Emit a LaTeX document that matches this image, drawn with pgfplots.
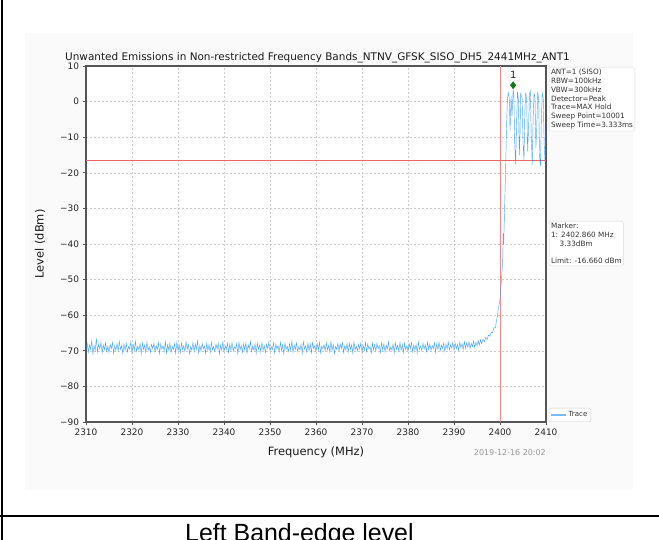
\documentclass[border=0pt]{standalone}
\usepackage{pgfplots}
\pgfplotsset{compat=1.18}
\usepackage{fontspec}
\setmainfont{DejaVu Sans}
\newfontfamily\arialfont{Liberation Sans}
\definecolor{tracecol}{RGB}{30,144,255}
\definecolor{axisgray}{RGB}{85,85,85}
\definecolor{gridgray}{RGB}{205,205,205}
\definecolor{limred}{RGB}{238,100,100}
\definecolor{vred}{RGB}{242,140,140}
\definecolor{mkgreen}{RGB}{20,120,20}
\definecolor{panel}{RGB}{250,250,250}

\begin{document}
\begin{tikzpicture}[x=1bp,y=1bp]
\useasboundingbox (0,0) rectangle (659,540);
\clip (0,0) rectangle (659,540);
\fill[white] (0,0) rectangle (659,540);
% chart panel
\fill[panel] (25,50) rectangle (633,507);
% table borders
\draw[black, line width=2bp] (2,0) -- (2,540);
\draw[black, line width=2bp] (0,24) -- (659,24);
\node[anchor=base west, inner sep=0pt, font=\arialfont\fontsize{25}{27}\selectfont] at (185,-2) {Left Band-edge level};

\begin{axis}[
  at={(86bp,118bp)}, anchor=south west,
  scale only axis, width=460bp, height=356bp,
  xmin=2310, xmax=2410, ymin=-90, ymax=10,
  xtick={2310,2320,2330,2340,2350,2360,2370,2380,2390,2400,2410},
  xticklabels={2310,2320,2330,2340,2350,2360,2370,2380,2390,2400,2410},
  ytick={-90,-80,-70,-60,-50,-40,-30,-20,-10,0,10},
  yticklabels={−90,−80,−70,−60,−50,−40,−30,−20,−10,0,10},
  tick align=outside, xtick pos=lower, ytick pos=left,
  major tick length=3.5bp,
  tick style={color=axisgray, line width=0.8bp},
  axis line style={color=axisgray, line width=1.2bp},
  grid=major, grid style={dash pattern=on 2bp off 2bp, color=gridgray, line width=0.5bp},
  ticklabel style={font=\fontsize{9}{10}\selectfont, text=black!85},
  xticklabel style={yshift=0bp},
  yticklabel style={xshift=0bp},
  axis background/.style={fill=white},
  legend style={at={(1.006,0)}, anchor=south west, draw=black!18, rounded corners=1.5bp,
    font=\fontsize{7.1}{8}\selectfont, text=black!80, inner sep=1.5bp, row sep=0pt},
  legend cell align=left,
  clip=false,
]
\addplot[limred, line width=1.1bp, forget plot] coordinates {(2310,-16.66) (2410,-16.66)};
\addplot[vred, line width=1bp, forget plot] coordinates {(2400,-90) (2400,10)};
\addplot[tracecol, opacity=0.8, line width=0.45bp, mark=none,
  legend image code/.code={\draw[tracecol, opacity=0.6, line width=1.2bp] (0bp,0bp) -- (15bp,0bp);}]
coordinates {
(2310.00,-69.8) (2310.25,-67.9) (2310.50,-70.4) (2310.75,-68.3) (2311.00,-69.6) (2311.25,-67.2) (2311.50,-70.9) (2311.75,-68.6) (2312.00,-69.9) (2312.25,-66.5)
(2312.50,-70.3) (2312.75,-68.1) (2313.00,-69.5) (2313.25,-67.6) (2313.50,-70.6) (2313.75,-68.4) (2314.00,-69.7) (2314.25,-67.8) (2314.50,-70.2) (2314.75,-68.7)
(2315.00,-70.5) (2315.25,-68.2) (2315.50,-69.4) (2315.75,-67.7) (2316.00,-70.8) (2316.25,-68.5) (2316.50,-69.8) (2316.75,-68.0) (2317.00,-70.1) (2317.25,-67.4)
(2317.50,-69.6) (2317.75,-68.6) (2318.00,-70.7) (2318.25,-68.1) (2318.50,-69.9) (2318.75,-67.9) (2319.00,-70.3) (2319.25,-68.8) (2319.50,-69.5) (2319.75,-67.5)
(2320.00,-70.6) (2320.25,-68.3) (2320.50,-69.8) (2320.75,-67.3) (2321.00,-70.2) (2321.25,-68.7) (2321.50,-69.7) (2321.75,-68.0) (2322.00,-70.9) (2322.25,-67.8)
(2322.50,-69.6) (2322.75,-68.4) (2323.00,-70.4) (2323.25,-67.6) (2323.50,-69.9) (2323.75,-68.9) (2324.00,-70.5) (2324.25,-68.2) (2324.50,-69.4) (2324.75,-67.9)
(2325.00,-70.3) (2325.25,-68.5) (2325.50,-69.7) (2325.75,-67.7) (2326.00,-70.8) (2326.25,-68.1) (2326.50,-69.5) (2326.75,-68.6) (2327.00,-70.1) (2327.25,-67.4)
(2327.50,-70.6) (2327.75,-68.3) (2328.00,-69.8) (2328.25,-67.9) (2328.50,-70.4) (2328.75,-68.8) (2329.00,-69.6) (2329.25,-68.0) (2329.50,-70.7) (2329.75,-67.6)
(2330.00,-69.9) (2330.25,-68.4) (2330.50,-70.5) (2330.75,-67.8) (2331.00,-69.7) (2331.25,-68.6) (2331.50,-70.2) (2331.75,-67.5) (2332.00,-69.5) (2332.25,-68.2)
(2332.50,-70.8) (2332.75,-68.9) (2333.00,-69.8) (2333.25,-67.7) (2333.50,-70.3) (2333.75,-68.1) (2334.00,-69.6) (2334.25,-67.2) (2334.50,-70.6) (2334.75,-68.5)
(2335.00,-70.1) (2335.25,-68.0) (2335.50,-69.4) (2335.75,-68.7) (2336.00,-70.7) (2336.25,-67.9) (2336.50,-69.9) (2336.75,-68.3) (2337.00,-70.4) (2337.25,-67.6)
(2337.50,-69.7) (2337.75,-68.8) (2338.00,-70.2) (2338.25,-68.1) (2338.50,-69.5) (2338.75,-67.8) (2339.00,-70.9) (2339.25,-68.4) (2339.50,-69.8) (2339.75,-67.5)
(2340.00,-70.3) (2340.25,-68.6) (2340.50,-69.6) (2340.75,-67.9) (2341.00,-70.5) (2341.25,-68.2) (2341.50,-69.9) (2341.75,-67.7) (2342.00,-70.1) (2342.25,-68.9)
(2342.50,-69.4) (2342.75,-68.0) (2343.00,-70.8) (2343.25,-67.6) (2343.50,-69.7) (2343.75,-68.5) (2344.00,-70.4) (2344.25,-68.1) (2344.50,-69.8) (2344.75,-67.8)
(2345.00,-70.6) (2345.25,-68.3) (2345.50,-69.5) (2345.75,-67.4) (2346.00,-70.2) (2346.25,-68.7) (2346.50,-69.9) (2346.75,-68.0) (2347.00,-70.7) (2347.25,-67.9)
(2347.50,-69.6) (2347.75,-68.4) (2348.00,-70.3) (2348.25,-67.7) (2348.50,-69.8) (2348.75,-68.6) (2349.00,-70.5) (2349.25,-68.2) (2349.50,-69.4) (2349.75,-67.5)
(2350.00,-70.0) (2350.25,-68.8) (2350.50,-69.7) (2350.75,-67.8) (2351.00,-70.6) (2351.25,-68.1) (2351.50,-69.5) (2351.75,-68.5) (2352.00,-70.3) (2352.25,-67.6)
(2352.50,-69.9) (2352.75,-68.3) (2353.00,-70.8) (2353.25,-67.9) (2353.50,-69.6) (2353.75,-68.7) (2354.00,-70.2) (2354.25,-68.0) (2354.50,-69.8) (2354.75,-67.3)
(2355.00,-70.4) (2355.25,-68.4) (2355.50,-69.6) (2355.75,-67.8) (2356.00,-70.1) (2356.25,-68.9) (2356.50,-69.7) (2356.75,-68.2) (2357.00,-70.7) (2357.25,-67.5)
(2357.50,-69.5) (2357.75,-68.6) (2358.00,-70.3) (2358.25,-67.9) (2358.50,-69.9) (2358.75,-68.1) (2359.00,-70.5) (2359.25,-67.7) (2359.50,-69.4) (2359.75,-68.5)
(2360.00,-70.2) (2360.25,-68.0) (2360.50,-69.8) (2360.75,-67.6) (2361.00,-70.6) (2361.25,-68.7) (2361.50,-69.5) (2361.75,-68.3) (2362.00,-70.0) (2362.25,-67.8)
(2362.50,-69.7) (2362.75,-68.5) (2363.00,-70.4) (2363.25,-67.4) (2363.50,-69.9) (2363.75,-68.2) (2364.00,-70.8) (2364.25,-68.8) (2364.50,-69.6) (2364.75,-67.9)
(2365.00,-70.1) (2365.25,-68.1) (2365.50,-69.4) (2365.75,-67.7) (2366.00,-70.5) (2366.25,-68.6) (2366.50,-69.8) (2366.75,-68.0) (2367.00,-70.3) (2367.25,-67.9)
(2367.50,-69.6) (2367.75,-68.4) (2368.00,-70.7) (2368.25,-67.5) (2368.50,-69.7) (2368.75,-68.7) (2369.00,-70.0) (2369.25,-68.2) (2369.50,-69.5) (2369.75,-67.8)
(2370.00,-70.4) (2370.25,-68.5) (2370.50,-69.9) (2370.75,-67.6) (2371.00,-70.2) (2371.25,-68.1) (2371.50,-69.5) (2371.75,-68.8) (2372.00,-70.6) (2372.25,-67.8)
(2372.50,-69.7) (2372.75,-68.3) (2373.00,-70.1) (2373.25,-67.9) (2373.50,-69.4) (2373.75,-68.6) (2374.00,-70.5) (2374.25,-67.7) (2374.50,-69.8) (2374.75,-68.0)
(2375.00,-70.3) (2375.25,-68.4) (2375.50,-69.6) (2375.75,-67.5) (2376.00,-70.0) (2376.25,-68.9) (2376.50,-69.8) (2376.75,-68.1) (2377.00,-70.5) (2377.25,-67.8)
(2377.50,-69.5) (2377.75,-68.5) (2378.00,-70.2) (2378.25,-67.6) (2378.50,-69.9) (2378.75,-68.2) (2379.00,-70.4) (2379.25,-67.9) (2379.50,-69.7) (2379.75,-68.6)
(2380.00,-70.1) (2380.25,-68.0) (2380.50,-69.4) (2380.75,-67.7) (2381.00,-70.3) (2381.25,-68.4) (2381.50,-69.8) (2381.75,-68.2) (2382.00,-70.6) (2382.25,-67.5)
(2382.50,-69.6) (2382.75,-68.7) (2383.00,-70.0) (2383.25,-67.9) (2383.50,-69.5) (2383.75,-68.3) (2384.00,-70.2) (2384.25,-67.6) (2384.50,-69.7) (2384.75,-68.1)
(2385.00,-69.9) (2385.25,-68.5) (2385.50,-69.4) (2385.75,-67.8) (2386.00,-70.3) (2386.25,-68.0) (2386.50,-69.6) (2386.75,-67.6) (2387.00,-70.0) (2387.25,-68.4)
(2387.50,-69.3) (2387.75,-67.9) (2388.00,-70.1) (2388.25,-68.2) (2388.50,-69.5) (2388.75,-67.5) (2389.00,-69.8) (2389.25,-68.3) (2389.50,-69.2) (2389.75,-67.7)
(2390.00,-69.7) (2390.25,-67.9) (2390.50,-69.4) (2390.75,-68.2) (2391.00,-69.9) (2391.25,-67.6) (2391.50,-69.1) (2391.75,-68.0) (2392.00,-69.6) (2392.25,-67.4)
(2392.50,-69.3) (2392.75,-67.8) (2393.00,-69.0) (2393.25,-67.5) (2393.50,-69.4) (2393.75,-67.9) (2394.00,-68.8) (2394.25,-67.3) (2394.50,-69.1) (2394.75,-67.6)
(2395.00,-68.6) (2395.25,-67.1) (2395.50,-68.4) (2395.75,-66.9)
(2396.0,-68.0) (2396.3,-66.8) (2396.6,-67.4) (2396.9,-66.2) (2397.2,-66.8) (2397.5,-65.6) (2397.8,-65.9) (2398.1,-64.8) (2398.4,-64.9) (2398.7,-63.5)
(2399.0,-63.6) (2399.2,-61.8) (2399.4,-60.5) (2399.6,-58.5) (2399.8,-57.0) (2400.0,-55.5) (2400.2,-52.0) (2400.4,-48.5) (2400.6,-44.0) (2400.7,-37.0)
(2400.8,-40.0) (2401.0,-30.0) (2401.2,-20.0) (2401.4,-8.0) (2401.6,0.5) (2401.8,2.5) (2402.0,1.0) (2402.2,-8.0) (2402.4,1.5) (2402.6,-4.0)
(2402.86,3.33) (2403.0,2.0) (2403.2,-12.0) (2403.4,-17.5) (2403.6,-6.0) (2403.8,2.8) (2404.0,0.5) (2404.2,-15.0) (2404.35,-9.0) (2404.5,2.2)
(2404.8,1.0) (2405.0,-11.0) (2405.2,-16.5) (2405.4,-3.0) (2405.6,2.6) (2405.8,0.2) (2406.0,-14.0) (2406.2,-8.0) (2406.4,2.1) (2406.6,2.9)
(2406.8,-10.0) (2407.0,-17.8) (2407.2,-5.0) (2407.4,2.4) (2407.6,1.2) (2407.8,-13.0) (2408.0,-7.0) (2408.2,2.7) (2408.4,0.8) (2408.6,-15.5)
(2408.8,-18.2) (2409.0,-4.0) (2409.2,2.3) (2409.4,1.0) (2409.6,-12.0) (2409.8,-17.0) (2410.0,-8.0)
};
\addlegendentry{Trace}
\addplot[only marks, mark=diamond*, mark size=3.6bp, color=mkgreen, forget plot] coordinates {(2402.86,4.6)};
\node[font=\fontsize{10}{11}\selectfont, text=black!85, anchor=south, inner sep=0pt] at (axis cs:2402.86,6.4) {1};
\end{axis}

% info box
\node[anchor=north west, draw=black!15, rounded corners=1.5bp, fill=white, inner sep=1.8bp,
  align=left, font=\fontsize{7.3}{8.9}\selectfont, text=black!80] at (549,473)
  {ANT=1 (SISO)\\RBW=100kHz\\VBW=300kHz\\Detector=Peak\\Trace=MAX Hold\\Sweep Point=10001\\Sweep Time=3.333ms};
% marker box
\node[anchor=north west, draw=black!15, rounded corners=1.5bp, fill=white, inner sep=1.8bp,
  align=left, font=\fontsize{7.3}{8.9}\selectfont, text=black!80] at (549,319)
  {Marker:\\1: 2402.860 MHz\\\hspace*{1.2em}3.33dBm\\\mbox{}\\Limit: -16.660 dBm};

% title and labels
\node[anchor=base, inner sep=0pt, font=\fontsize{10.5}{12}\selectfont, text=black!90] at (317.5,479)
  {Unwanted Emissions in Non-restricted Frequency Bands\_NTNV\_GFSK\_SISO\_DH5\_2441MHz\_ANT1};
\node[anchor=center, inner sep=0pt, font=\fontsize{11.5}{13}\selectfont, text=black!90] at (316,88) {Frequency (MHz)};
\node[anchor=center, rotate=90, inner sep=0pt, font=\fontsize{11.5}{13}\selectfont, text=black!90] at (40,296) {Level (dBm)};
\node[anchor=east, inner sep=0pt, font=\fontsize{8}{9}\selectfont, text=black!40] at (546,87) {2019-12-16 20:02};
\end{tikzpicture}
\end{document}
